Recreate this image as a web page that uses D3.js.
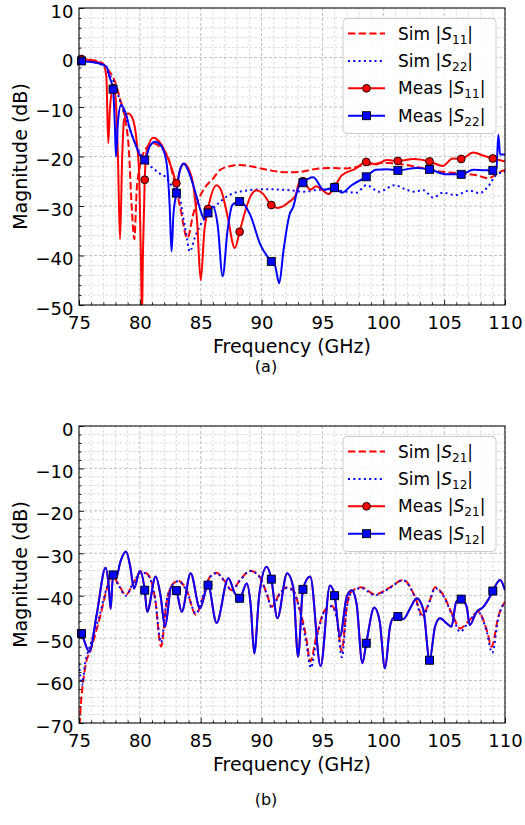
<!DOCTYPE html>
<html><head><meta charset="utf-8">
<script src="https://cdn.jsdelivr.net/npm/d3@7"></script>
<style>body{margin:0;background:#fff}svg{display:block}text{font-family:"DejaVu Sans",sans-serif}</style>
</head><body><svg id="c" width="525" height="825"></svg>
<script>
// ---------- data ----------
const xTicks = [75, 80, 85, 90, 95, 100, 105, 110];
const yTicksA = [10, 0, -10, -20, -30, -40, -50];
const yTicksB = [0, -10, -20, -30, -40, -50, -60, -70];
const markerFreqs = [75.2, 77.8, 80.4, 83.0, 85.6, 88.2, 90.8, 93.4, 96.0, 98.6, 101.2, 103.8, 106.4, 109.0];

const simS11 = [[75,-0.4],[76,-0.5],[76.8,-1.0],[77.4,-2.5],[77.96,-4.9],[78.35,-8.2],[78.8,-12.6],[79.1,-18.7],[79.33,-30.1],[79.55,-36.7],[79.74,-26.8],[80.0,-22.1],[80.42,-18.7],[81.1,-17.3],[81.8,-18.4],[82.3,-20.0],[82.75,-24.1],[83.3,-30.1],[83.9,-36.5],[84.4,-31.5],[85.2,-26.8],[86.0,-24.5],[86.6,-22.7],[87.5,-21.9],[88.2,-21.7],[89.0,-21.9],[89.9,-22.4],[90.7,-22.8],[91.5,-23.1],[92.3,-23.2],[93.2,-23.1],[94.25,-22.6],[95.6,-22.3],[97.0,-22.4],[98.6,-21.7],[100.3,-21.3],[101.9,-21.7],[103.3,-22.4],[104.9,-23.1],[106.3,-23.4],[107.7,-23.8],[108.6,-24.4],[109.6,-23.1],[110,-22.7]];
const simS22 = [[75,-0.6],[76,-0.8],[77.1,-1.9],[77.5,-3.5],[77.96,-5.4],[78.35,-8.6],[78.9,-12.5],[79.4,-16.0],[80.1,-19.7],[80.6,-21.4],[81.1,-22.4],[81.6,-23.4],[82.1,-24.1],[82.5,-25.5],[82.9,-26.8],[83.3,-28.5],[83.5,-31.5],[83.8,-35.5],[84.1,-39.2],[84.5,-36.5],[84.9,-34.2],[85.7,-31.5],[86.6,-29.1],[87.7,-27.4],[88.7,-26.9],[90.35,-26.6],[91.5,-26.7],[92.3,-26.8],[93.5,-27.1],[94.8,-26.7],[95.9,-26.8],[97.0,-27.1],[97.8,-27.3],[98.6,-25.8],[99.7,-27.1],[100.9,-25.8],[101.8,-26.6],[102.5,-27.1],[103.3,-26.8],[104.1,-28.3],[104.9,-27.3],[105.9,-27.8],[107.1,-26.9],[107.9,-27.4],[108.6,-26.1],[109.3,-23.7],[110,-23.1]];
const measS11 = [[75,-0.3],[75.2,-0.3],[76.3,-0.8],[77.0,-1.3],[77.25,-4],[77.4,-17.3],[77.55,-10],[77.8,-6.2],[78.0,-8],[78.2,-20],[78.37,-36.7],[78.55,-20],[78.7,-12.6],[79.05,-11.3],[79.4,-12.3],[79.74,-17.0],[79.95,-24],[80.1,-42],[80.17,-53],[80.25,-40],[80.4,-24.7],[80.56,-19.0],[81.1,-16.2],[81.6,-17.0],[82.3,-20.3],[82.75,-23.4],[83.0,-25.4],[83.3,-22.7],[83.65,-21.4],[84.0,-22.5],[84.4,-26],[84.7,-33],[85.0,-45],[85.3,-35],[85.6,-30.6],[86.3,-25.8],[86.7,-27],[87.2,-32],[87.8,-38.5],[88.2,-35.2],[88.6,-31.5],[89.1,-28],[89.6,-26.8],[90.1,-27.5],[90.8,-29.8],[91.3,-30.4],[92.3,-29.1],[92.8,-27.8],[93.1,-25.2],[93.4,-25.0],[94.0,-26.7],[94.5,-26.0],[95.0,-26.8],[95.5,-27.6],[96.0,-26.1],[96.6,-23.8],[97.7,-22.5],[98.6,-21.1],[99.4,-21.6],[100.3,-20.7],[101.2,-20.9],[102.5,-20.5],[103.8,-21.0],[104.9,-21.9],[105.7,-20.4],[106.4,-20.5],[107.4,-19.2],[108.2,-19.8],[109.0,-20.4],[110,-21.0]];
const measS22 = [[75,-0.6],[75.2,-0.7],[76.3,-1.0],[77.0,-1.5],[77.27,-1.9],[77.5,-3.9],[77.8,-6.4],[77.95,-14],[78.04,-20.0],[78.2,-13],[78.45,-9.6],[78.8,-11.0],[79.2,-14.6],[79.6,-17.3],[80.0,-19.7],[80.4,-20.7],[80.8,-18.0],[81.25,-17.0],[81.8,-18.0],[82.2,-21.4],[82.45,-30],[82.6,-39.2],[82.75,-32],[83.0,-27.4],[83.3,-22.7],[83.6,-21.4],[84.0,-23.0],[84.4,-25.9],[85.1,-31.7],[85.25,-32.5],[85.6,-31.4],[86.0,-30.1],[86.4,-34],[86.8,-44.2],[87.2,-35],[87.6,-29.8],[88.2,-29.1],[89.05,-31.7],[89.9,-37.8],[90.8,-41.2],[91.1,-42],[91.45,-45.6],[91.8,-39],[92.3,-31.7],[92.6,-30.2],[93.0,-26.4],[93.4,-25.3],[94.25,-24.2],[95.1,-26.7],[96.0,-26.3],[96.6,-27.3],[97.4,-25.8],[98.6,-24.1],[99.4,-22.7],[100.3,-22.6],[101.2,-22.8],[102.7,-22.3],[103.8,-22.6],[105.2,-23.6],[106.4,-23.6],[107.4,-22.7],[108.4,-22.8],[109.0,-22.8],[109.3,-22.5],[109.45,-15.6],[109.6,-19.6],[110,-19.6]];

const simS21 = [[75,-73],[75.1,-68],[75.5,-57],[76.0,-52.4],[76.7,-45.3],[77.3,-38.3],[77.7,-35.1],[78.2,-37.1],[78.86,-39.8],[79.45,-37.1],[80.15,-34.3],[80.7,-35.1],[81.25,-40.6],[81.74,-52.0],[82.2,-41.5],[82.75,-37.1],[83.16,-36.5],[83.85,-38.7],[84.6,-44.5],[85.2,-40.2],[85.76,-35.5],[86.3,-34.6],[87.0,-36.7],[87.55,-38.7],[88.23,-36.3],[89.05,-34.1],[89.73,-35.1],[90.42,-39.4],[90.83,-42.6],[91.5,-39.4],[92.07,-38.0],[92.6,-38.7],[93.0,-41.8],[93.7,-50.4],[94.0,-55.5],[94.5,-49.6],[95.2,-43.4],[95.76,-42.4],[96.17,-44.9],[96.58,-53.0],[97.0,-42.6],[97.4,-39.0],[98.2,-38.0],[99.32,-39.7],[100.4,-38.3],[101.65,-36.3],[102.6,-40.2],[103.2,-44.5],[103.84,-41.0],[104.25,-38.0],[104.9,-39.7],[105.75,-44.9],[106.3,-47.7],[107.1,-45.7],[107.8,-43.8],[108.5,-48.1],[108.9,-52.0],[109.45,-44.9],[110,-41.4]];
const simS12 = [[75,-56],[75.25,-61],[75.5,-56],[76.0,-51],[76.7,-44.5],[77.3,-38],[77.7,-35.3],[78.2,-37.3],[78.86,-40.0],[79.45,-37.0],[80.15,-34.5],[80.7,-35.3],[81.25,-40.8],[81.74,-51.0],[82.2,-41.2],[82.75,-37.2],[83.16,-36.6],[83.85,-38.9],[84.6,-44.2],[85.2,-40.0],[85.76,-35.6],[86.3,-34.7],[87.0,-36.8],[87.55,-38.8],[88.23,-36.4],[89.05,-34.2],[89.73,-35.2],[90.42,-39.6],[90.83,-42.8],[91.5,-39.6],[92.07,-38.2],[92.6,-38.9],[93.0,-42.0],[93.7,-51.5],[94.05,-57.0],[94.5,-50.5],[95.2,-43.5],[95.76,-42.5],[96.17,-45.2],[96.6,-54.5],[97.0,-42.8],[97.4,-39.2],[98.2,-38.2],[99.32,-39.9],[100.4,-38.4],[101.65,-36.4],[102.6,-40.4],[103.2,-45.0],[103.84,-41.2],[104.25,-38.2],[104.9,-39.9],[105.75,-45.2],[106.3,-48.5],[107.1,-45.8],[107.8,-43.9],[108.5,-48.5],[108.95,-53.5],[109.45,-45.2],[110,-41.5]];
const measS12 = [[75,-48.1],[75.2,-48.9],[75.85,-53.2],[76.45,-44.5],[77.19,-33.4],[77.45,-38],[77.6,-43.1],[77.8,-35.1],[78.05,-35.8],[78.4,-32],[78.86,-29.6],[79.2,-33],[79.52,-38.3],[80.0,-34.2],[80.4,-38.7],[80.6,-43.8],[81.3,-35.5],[81.7,-40],[82.07,-47.3],[82.6,-37.8],[83.0,-38.8],[83.44,-43.8],[84.17,-34.7],[84.94,-43.0],[85.6,-37.5],[86.3,-46.4],[87.27,-35.9],[87.8,-39.4],[88.2,-40.6],[88.78,-37.1],[89.1,-42],[89.4,-53.6],[89.8,-40],[90.42,-33.2],[90.8,-36.1],[91.3,-45.3],[92.1,-34.7],[92.6,-38],[93.0,-54.4],[93.4,-38.5],[94.0,-35.5],[94.85,-56.6],[95.62,-37.6],[96.0,-40.0],[96.44,-49.6],[97.0,-40.2],[97.4,-38.7],[97.8,-41.8],[98.28,-55.9],[98.6,-51.2],[99.26,-42.8],[99.7,-46],[100.14,-57.1],[100.55,-47.3],[100.8,-45.3],[101.2,-44.9],[101.65,-45.5],[102.2,-43.0],[102.75,-40.6],[103.3,-43.4],[103.8,-55.2],[104.25,-47.3],[104.66,-45.3],[105.2,-46.5],[105.6,-47.3],[106.0,-41.4],[106.4,-40.8],[106.85,-42.6],[107.1,-46.9],[107.67,-43.8],[108.2,-42.7],[108.77,-40.2],[109.0,-38.9],[109.6,-36.3],[110,-38.7]];
const measS21 = measS12.map(d => [d[0], d[1]]);

const legendA = [["Sim", "11"], ["Sim", "22"], ["Meas", "11"], ["Meas", "22"]];
const legendB = [["Sim", "21"], ["Sim", "12"], ["Meas", "21"], ["Meas", "12"]];

// ---------- drawing ----------
const svg = d3.select("#c");
const L = 79, R = 505;
const x = d3.scaleLinear().domain([75, 110]).range([L, R]);
const RED = "#ff0000", BLUE = "#0000ff";
const styles = [
  {color: RED, dash: "7.4,3.2", marker: null},
  {color: BLUE, dash: "2,3.3", marker: null},
  {color: RED, dash: null, marker: "circle"},
  {color: BLUE, dash: null, marker: "square"}
];
const fmt = d => d < 0 ? "\u2212" + Math.abs(d) : String(d);

function drawMarker(g, type, cx, cy) {
  if (type === "circle") {
    g.append("circle").attr("cx", cx).attr("cy", cy).attr("r", 3.9)
      .attr("fill", RED).attr("stroke", "#000").attr("stroke-width", 0.9);
  } else if (type === "square") {
    g.append("rect").attr("x", cx - 4).attr("y", cy - 4).attr("width", 8).attr("height", 8)
      .attr("fill", BLUE).attr("stroke", "#000").attr("stroke-width", 0.9);
  }
}

function drawPanel(id, top, bottom, yDomain, yTicks, series, legend, caption, captionY) {
  const y = d3.scaleLinear().domain(yDomain).range([bottom, top]);
  const g = svg.append("g");
  const minorX = d3.range(75, 110.001, 1).filter(v => v % 5 !== 0);
  const minorY = d3.range(yDomain[0], yDomain[1] + 0.001, 2).filter(v => v % 10 !== 0);

  // grid
  const grid = g.append("g");
  grid.selectAll(".mx").data(minorX).join("line")
    .attr("x1", d => x(d)).attr("x2", d => x(d)).attr("y1", top).attr("y2", bottom)
    .attr("stroke", "#c8c8c8").attr("stroke-width", 0.7).attr("stroke-dasharray", "2.5,2");
  grid.selectAll(".my").data(minorY).join("line")
    .attr("y1", d => y(d)).attr("y2", d => y(d)).attr("x1", L).attr("x2", R)
    .attr("stroke", "#c8c8c8").attr("stroke-width", 0.7).attr("stroke-dasharray", "2.5,2");
  grid.selectAll(".Mx").data(xTicks).join("line")
    .attr("x1", d => x(d)).attr("x2", d => x(d)).attr("y1", top).attr("y2", bottom)
    .attr("stroke", "#b0b0b0").attr("stroke-width", 0.8).attr("stroke-dasharray", "3,2");
  grid.selectAll(".My").data(yTicks).join("line")
    .attr("y1", d => y(d)).attr("y2", d => y(d)).attr("x1", L).attr("x2", R)
    .attr("stroke", "#b0b0b0").attr("stroke-width", 0.8).attr("stroke-dasharray", "3,2");

  // clip
  svg.append("clipPath").attr("id", "clip" + id).append("rect")
    .attr("x", L).attr("y", top).attr("width", R - L).attr("height", bottom - top);

  const line = d3.line().x(d => x(d[0])).y(d => y(d[1])).curve(d3.curveMonotoneX);
  const plot = g.append("g").attr("clip-path", "url(#clip" + id + ")");
  series.forEach((data, i) => {
    const st = styles[i];
    plot.append("path").datum(data).attr("d", line).attr("fill", "none")
      .attr("stroke", st.color).attr("stroke-width", 2)
      .attr("stroke-dasharray", st.dash).attr("stroke-linejoin", "round");
    if (st.marker) {
      const pts = data.filter(d => markerFreqs.some(m => Math.abs(m - d[0]) < 1e-6));
      const mg = g.append("g");
      pts.forEach(p => drawMarker(mg, st.marker, x(p[0]), y(p[1])));
    }
  });

  // axes
  const ax = g.append("g").attr("transform", `translate(0,${bottom})`)
    .call(d3.axisBottom(x).tickValues(xTicks).tickSize(-5).tickPadding(11).tickFormat(fmt));
  ax.select(".domain").remove();
  ax.attr("font-size", 18).attr("font-family", "DejaVu Sans");
  const axm = g.append("g").attr("transform", `translate(0,${bottom})`)
    .call(d3.axisBottom(x).tickValues(minorX).tickSize(-2.5).tickFormat(""));
  axm.select(".domain").remove();
  const ay = g.append("g").attr("transform", `translate(${L},0)`)
    .call(d3.axisLeft(y).tickValues(yTicks).tickSize(-5).tickPadding(5.5).tickFormat(fmt));
  ay.select(".domain").remove();
  ay.attr("font-size", 18).attr("font-family", "DejaVu Sans");
  ay.selectAll(".tick text").attr("dy", "0.5em");
  const aym = g.append("g").attr("transform", `translate(${L},0)`)
    .call(d3.axisLeft(y).tickValues(minorY).tickSize(-2.5).tickFormat(""));
  aym.select(".domain").remove();
  g.selectAll(".tick line").attr("stroke", "#000").attr("stroke-width", 0.9);
  g.selectAll(".tick text").attr("fill", "#000");

  g.append("rect").attr("x", L).attr("y", top).attr("width", R - L).attr("height", bottom - top)
    .attr("fill", "none").attr("stroke", "#000").attr("stroke-width", 1);

  g.append("text").attr("x", (L + R) / 2).attr("y", bottom + 48).attr("text-anchor", "middle")
    .attr("font-size", 19).text("Frequency (GHz)");
  g.append("text").attr("transform", `translate(27,${(top + bottom) / 2}) rotate(-90)`)
    .attr("text-anchor", "middle").attr("font-size", 19).text("Magnitude (dB)");

  // legend
  const lx0 = 343, ly0 = top + 10.5, lw = 153, lh = 115;
  const lg = g.append("g");
  lg.append("rect").attr("x", lx0).attr("y", ly0).attr("width", lw).attr("height", lh)
    .attr("rx", 4).attr("fill", "#fff").attr("fill-opacity", 0.85)
    .attr("stroke", "#cccccc").attr("stroke-width", 1);
  legend.forEach((lab, i) => {
    const cy = ly0 + 15 + i * 27.4;
    const st = styles[i];
    lg.append("line").attr("x1", 348).attr("x2", 385).attr("y1", cy).attr("y2", cy)
      .attr("stroke", st.color).attr("stroke-width", 2).attr("stroke-dasharray", st.dash);
    if (st.marker) drawMarker(lg, st.marker, 366.5, cy);
    const t = lg.append("text").attr("x", 398).attr("y", cy + 6).attr("font-size", 17);
    t.append("tspan").text(lab[0] + " |");
    t.append("tspan").attr("font-style", "italic").text("S");
    t.append("tspan").attr("font-size", 12).attr("dy", 4).text(lab[1]);
    t.append("tspan").attr("dy", -4).text("|");
  });

  svg.append("text").attr("x", 266).attr("y", captionY).attr("text-anchor", "middle")
    .attr("font-family", "Liberation Serif, Times New Roman, serif").attr("font-size", 16)
    .text(caption);
}

drawPanel("a", 8, 305, [-50, 10], yTicksA, [simS11, simS22, measS11, measS22], legendA, "(a)", 372);
drawPanel("b", 426, 723, [-70, 0], yTicksB, [simS21, simS12, measS21, measS12], legendB, "(b)", 805);
</script></body></html>
